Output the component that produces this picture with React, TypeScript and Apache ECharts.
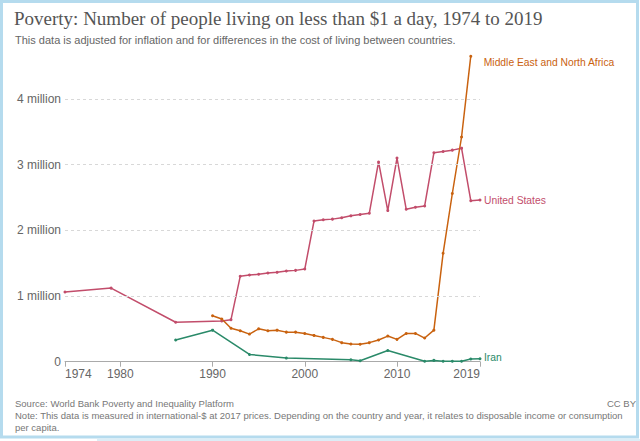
import React, { useEffect, useRef } from "react";
import * as echarts from "echarts";

const titleText = "Poverty: Number of people living on less than $1 a day, 1974 to 2019";
const subtitleText = "This data is adjusted for inflation and for differences in the cost of living between countries.";
const sourceText = "Source: World Bank Poverty and Inequality Platform";
const noteText = "Note: This data is measured in international-$ at 2017 prices. Depending on the country and year, it relates to disposable income or consumption\nper capita.";

const xTickYears = [1974, 1980, 1990, 2000, 2010, 2019];

const usYears = [1974, 1979, 1986, 1991, 1992, 1993, 1994, 1995, 1996, 1997, 1998, 1999, 2000, 2001, 2002, 2003, 2004, 2005, 2006, 2007, 2008, 2009, 2010, 2011, 2012, 2013, 2014, 2015, 2016, 2017, 2018, 2019];
const usValues = [1.06, 1.12, 0.6, 0.62, 0.64, 1.3, 1.32, 1.33, 1.35, 1.36, 1.38, 1.39, 1.41, 2.14, 2.16, 2.17, 2.19, 2.22, 2.24, 2.26, 3.04, 2.3, 3.1, 2.32, 2.35, 2.37, 3.18, 3.2, 3.22, 3.25, 2.45, 2.46];

const menaYears = [1990, 1991, 1992, 1993, 1994, 1995, 1996, 1997, 1998, 1999, 2000, 2001, 2002, 2003, 2004, 2005, 2006, 2007, 2008, 2009, 2010, 2011, 2012, 2013, 2014, 2015, 2016, 2017, 2018];
const menaValues = [0.7, 0.65, 0.51, 0.47, 0.42, 0.5, 0.47, 0.48, 0.45, 0.45, 0.43, 0.4, 0.37, 0.34, 0.29, 0.27, 0.265, 0.29, 0.33, 0.39, 0.34, 0.43, 0.43, 0.36, 0.48, 1.65, 2.56, 3.42, 4.65];

const iranYears = [1986, 1990, 1994, 1998, 2005, 2006, 2009, 2013, 2014, 2015, 2016, 2017, 2018, 2019];
const iranValues = [0.33, 0.48, 0.11, 0.055, 0.03, 0.015, 0.17, 0.006, 0.02, 0.006, 0.006, 0.006, 0.04, 0.045];

const gridValues = [1, 2, 3, 4];

const SANS = "'Liberation Sans', Arial, Helvetica, sans-serif";
const SERIF = "'Liberation Serif', 'Times New Roman', serif";

const US_COLOR = "#c24d6b";
const MENA_COLOR = "#c9620f";
const IRAN_COLOR = "#2a8a69";

function pairs(xs: number[], ys: number[]) {
  return xs.map((x, i) => [x, ys[i]]);
}

export default function App() {
  const ref = useRef<HTMLDivElement>(null);
  useEffect(() => {
    if (!ref.current) return;
    const chart = echarts.init(ref.current, undefined, { renderer: "svg" });
    const lineSeries = (name: string, data: number[][], color: string, distance: number, offset: number[]) => ({
      type: "line",
      name,
      data,
      symbol: "circle",
      symbolSize: 3,
      showSymbol: true,
      lineStyle: { color, width: 1.5 },
      itemStyle: { color },
      emphasis: { disabled: true },
      endLabel: {
        show: true,
        formatter: name,
        color,
        fontFamily: SANS,
        fontSize: 10.3,
        distance,
        offset,
      },
    });
    chart.setOption({
      animation: false,
      backgroundColor: "#fff",
      title: [
        { text: titleText, left: 14, top: 9, padding: 0, textStyle: { fontFamily: SERIF, fontSize: 19, fontWeight: "normal", color: "#555" } },
        { text: subtitleText, left: 15, top: 34, padding: 0, textStyle: { fontFamily: SANS, fontSize: 11, fontWeight: "normal", color: "#666" } },
        { text: sourceText, left: 15, top: 398, padding: 0, textStyle: { fontFamily: SANS, fontSize: 9.5, fontWeight: "normal", color: "#777" } },
        { text: "CC BY", right: 4, top: 398, padding: 0, textStyle: { fontFamily: SANS, fontSize: 9.5, fontWeight: "normal", color: "#777" } },
        { text: noteText, left: 15, top: 410, padding: 0, textStyle: { fontFamily: SANS, fontSize: 9.5, fontWeight: "normal", color: "#777", lineHeight: 11.5 } },
      ],
      grid: { left: 65, right: 160, top: 52.9, bottom: 79.3, containLabel: false },
      xAxis: {
        type: "value",
        min: 1974,
        max: 2019,
        splitLine: { show: false },
        axisLine: { show: true, lineStyle: { color: "#aaa", width: 1 } },
        axisTick: { show: true, customValues: xTickYears, length: 5, lineStyle: { color: "#aaa" } },
        axisLabel: {
          customValues: xTickYears,
          formatter: (v: number) => String(v),
          color: "#666",
          fontFamily: SANS,
          fontSize: 12,
          margin: 6,
          alignMinLabel: "left",
          alignMaxLabel: "right",
        },
      },
      yAxis: {
        type: "value",
        min: 0,
        max: 4.7,
        interval: 1,
        splitLine: { show: false },
        axisLine: { show: false },
        axisTick: { show: false },
        axisLabel: {
          formatter: (v: number) => (v === 0 ? "0" : Number.isInteger(v) ? v + " million" : ""),
          color: "#666",
          fontFamily: SANS,
          fontSize: 12,
          margin: 4,
        },
      },
      series: [
        {
          type: "line",
          name: "grid",
          data: [],
          markLine: {
            silent: true,
            symbol: "none",
            label: { show: false },
            lineStyle: { color: "#d8d8d8", type: [3, 3], width: 1 },
            data: gridValues.map((v) => ({ yAxis: v })),
          },
        },
        lineSeries("Iran", pairs(iranYears, iranValues), IRAN_COLOR, 4, [0, -1]),
        lineSeries("United States", pairs(usYears, usValues), US_COLOR, 4, [0, 0]),
        lineSeries("Middle East and North Africa", pairs(menaYears, menaValues), MENA_COLOR, 13, [0, 6]),
      ],
      graphic: [
        { type: "rect", shape: { x: 1.5, y: 1.5, width: 636, height: 435.5 }, style: { fill: "none", stroke: "#b5dbee", lineWidth: 3 }, silent: true },
        { type: "rect", shape: { x: 97, y: 439, width: 543, height: 2 }, style: { fill: "#dcedf6" }, silent: true },
      ],
    });
    return () => chart.dispose();
  }, []);
  return <div ref={ref} style={{ position: "fixed", left: 0, top: 0, width: 640, height: 441, background: "#fff" }} />;
}
